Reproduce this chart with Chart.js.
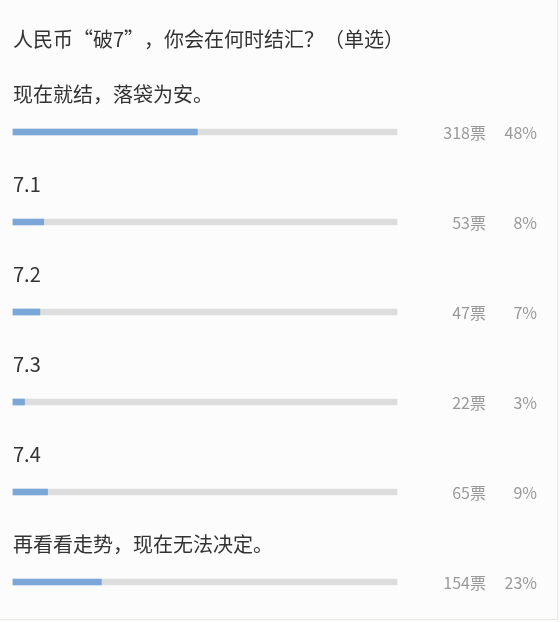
<!DOCTYPE html>
<html>
<head>
<meta charset="utf-8">
<script src="https://cdn.jsdelivr.net/npm/chart.js@4"></script>
<style>
  html, body { margin: 0; padding: 0; background: #ffffff; }
  #wrap { width: 560px; height: 622px; }
</style>
</head>
<body>
<div id="wrap"><canvas id="poll" width="560" height="622"></canvas></div>
<script>
const title = '人民币“破7”，你会在何时结汇？（单选）';
const options = ['现在就结，落袋为安。', '7.1', '7.2', '7.3', '7.4', '再看看走势，现在无法决定。'];
const votes = [318, 53, 47, 22, 65, 154];
const percents = [48, 8, 7, 3, 9, 23];
const track = [100, 100, 100, 100, 100, 100];

const FONT = '"Noto Sans CJK SC", "Noto Sans", sans-serif';

const pollText = {
    id: 'pollText',
    beforeDraw(chart) {
        const ctx = chart.ctx;
        ctx.save();
        ctx.fillStyle = '#fcfcfc';
        ctx.fillRect(0, 0, chart.width, chart.height);
        ctx.strokeStyle = '#ece9e2';
        ctx.lineWidth = 1;
        ctx.beginPath();
        ctx.moveTo(557.5, 0);
        ctx.lineTo(557.5, 619.5);
        ctx.lineTo(0, 619.5);
        ctx.stroke();
        ctx.restore();
    },
    afterDraw(chart) {
        const ctx = chart.ctx;
        const y = chart.scales.y;
        ctx.save();
        ctx.textBaseline = 'middle';
        ctx.fillStyle = '#333333';
        ctx.font = '20px ' + FONT;
        ctx.textAlign = 'left';
        ctx.fillText(title, 13, 39);
        options.forEach((label, i) => {
            const py = y.getPixelForValue(i);
            ctx.fillStyle = '#333333';
            ctx.font = '20px ' + FONT;
            ctx.textAlign = 'left';
            ctx.fillText(label, 13, py - 38);
            ctx.fillStyle = '#999999';
            ctx.font = '16px ' + FONT;
            ctx.textAlign = 'right';
            ctx.fillText(votes[i] + '票', 486, py + 1);
            ctx.fillText(percents[i] + '%', 537, py + 1);
        });
        ctx.restore();
    }
};

new Chart(document.getElementById('poll'), {
    type: 'bar',
    data: {
        labels: options,
        datasets: [
            {
                data: percents,
                backgroundColor: '#7ba6d8',
                barThickness: 6,
                grouped: false,
                order: 0,
                clip: false
            },
            {
                data: track,
                backgroundColor: '#dddddd',
                barThickness: 6,
                grouped: false,
                order: 1,
                clip: false
            }
        ]
    },
    options: {
        indexAxis: 'y',
        responsive: false,
        animation: false,
        devicePixelRatio: 1,
        layout: {
            padding: { left: 13, right: 163, top: 132, bottom: 40 }
        },
        plugins: {
            legend: { display: false },
            tooltip: { enabled: false }
        },
        scales: {
            x: { min: 0, max: 100, display: false },
            y: { type: 'category', offset: false, display: false }
        }
    },
    plugins: [pollText]
});
</script>
</body>
</html>
